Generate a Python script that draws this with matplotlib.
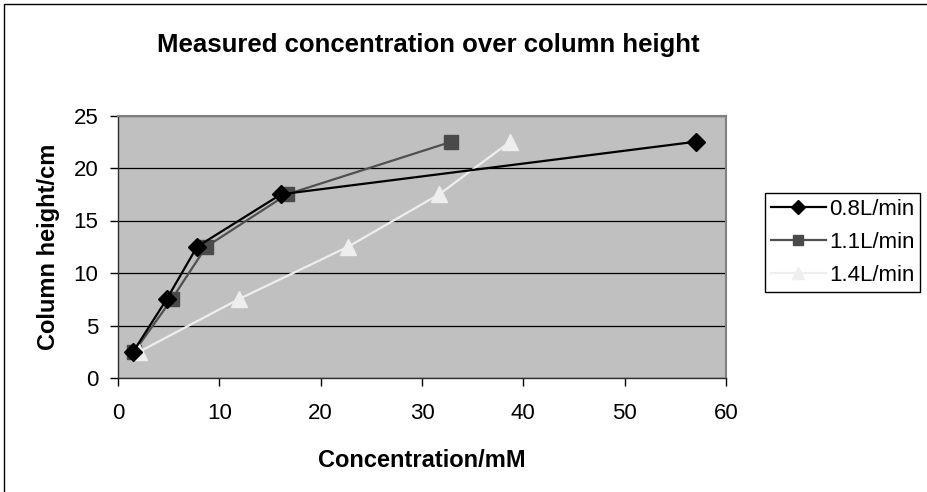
import matplotlib.pyplot as plt
from matplotlib.patches import Rectangle

plt.rcParams['font.family'] = ['Liberation Sans', 'DejaVu Sans']

heights = [2.5, 7.5, 12.5, 17.5, 22.5]
conc_08 = [1.5, 4.8, 7.8, 16.1, 57.0]
conc_11 = [1.6, 5.3, 8.7, 16.7, 32.9]
conc_14 = [2.1, 11.9, 22.7, 31.7, 38.7]
labels = ['0.8L/min', '1.1L/min', '1.4L/min']

fig = plt.figure(figsize=(9.28, 4.92), dpi=100)
ax = fig.add_axes([118 / 928, 1 - 378 / 492, (726 - 118) / 928, (378 - 115.5) / 492])
ax.set_facecolor('#c0c0c0')

ax.plot(conc_08, heights, color='black', lw=1.6, marker='D', ms=9, mfc='black', mec='black', label=labels[0], zorder=4)
ax.plot(conc_11, heights, color='#505050', lw=1.6, marker='s', ms=10, mfc='#4a4a4a', mec='#4a4a4a', label=labels[1], zorder=3)
ax.plot(conc_14, heights, color='#eeeeee', lw=1.6, marker='^', ms=12, mfc='#eeeeee', mec='#eeeeee', label=labels[2], zorder=3)

ax.set_xlim(0, 60)
ax.set_ylim(0, 25)
ax.set_xticks(range(0, 61, 10))
ax.set_yticks(range(0, 26, 5))
ax.yaxis.grid(True, color='black', lw=0.9)
ax.set_axisbelow(True)
for s in ax.spines.values():
    s.set_color('#808080')
    s.set_linewidth(1.5)
ax.spines['left'].set_color('#303030')
ax.spines['bottom'].set_color('#303030')
ax.spines['left'].set_linewidth(1)
ax.spines['bottom'].set_linewidth(1)
ax.tick_params(direction='out', length=6, width=1, labelsize=16, color='black')
ax.tick_params(axis='x', pad=12)
ax.tick_params(axis='y', pad=8)

ax.set_xlabel('Concentration/mM', fontsize=17, fontweight='bold', labelpad=18)
ax.set_ylabel('Column height/cm', fontsize=17, fontweight='bold', labelpad=10)
fig.text(428 / 928, 1 - 45 / 492, 'Measured concentration over column height',
         ha='center', va='center', fontsize=18.5, fontweight='bold')

leg = fig.legend(loc='upper left', bbox_to_anchor=(765 / 928, 1 - 193 / 492), fontsize=16,
                 frameon=True, fancybox=False, edgecolor='black', framealpha=1,
                 handlelength=2.5, borderpad=0.25, labelspacing=0.55, handletextpad=0.15,
                 borderaxespad=0, markerscale=0.75)
leg.get_frame().set_linewidth(1)

fig.patches.append(Rectangle((4 / 928, -0.1), 1.2, 1 - 4 / 492 + 0.1, transform=fig.transFigure,
                             fill=False, edgecolor='black', lw=1))

fig.savefig('out.png', dpi=100)
